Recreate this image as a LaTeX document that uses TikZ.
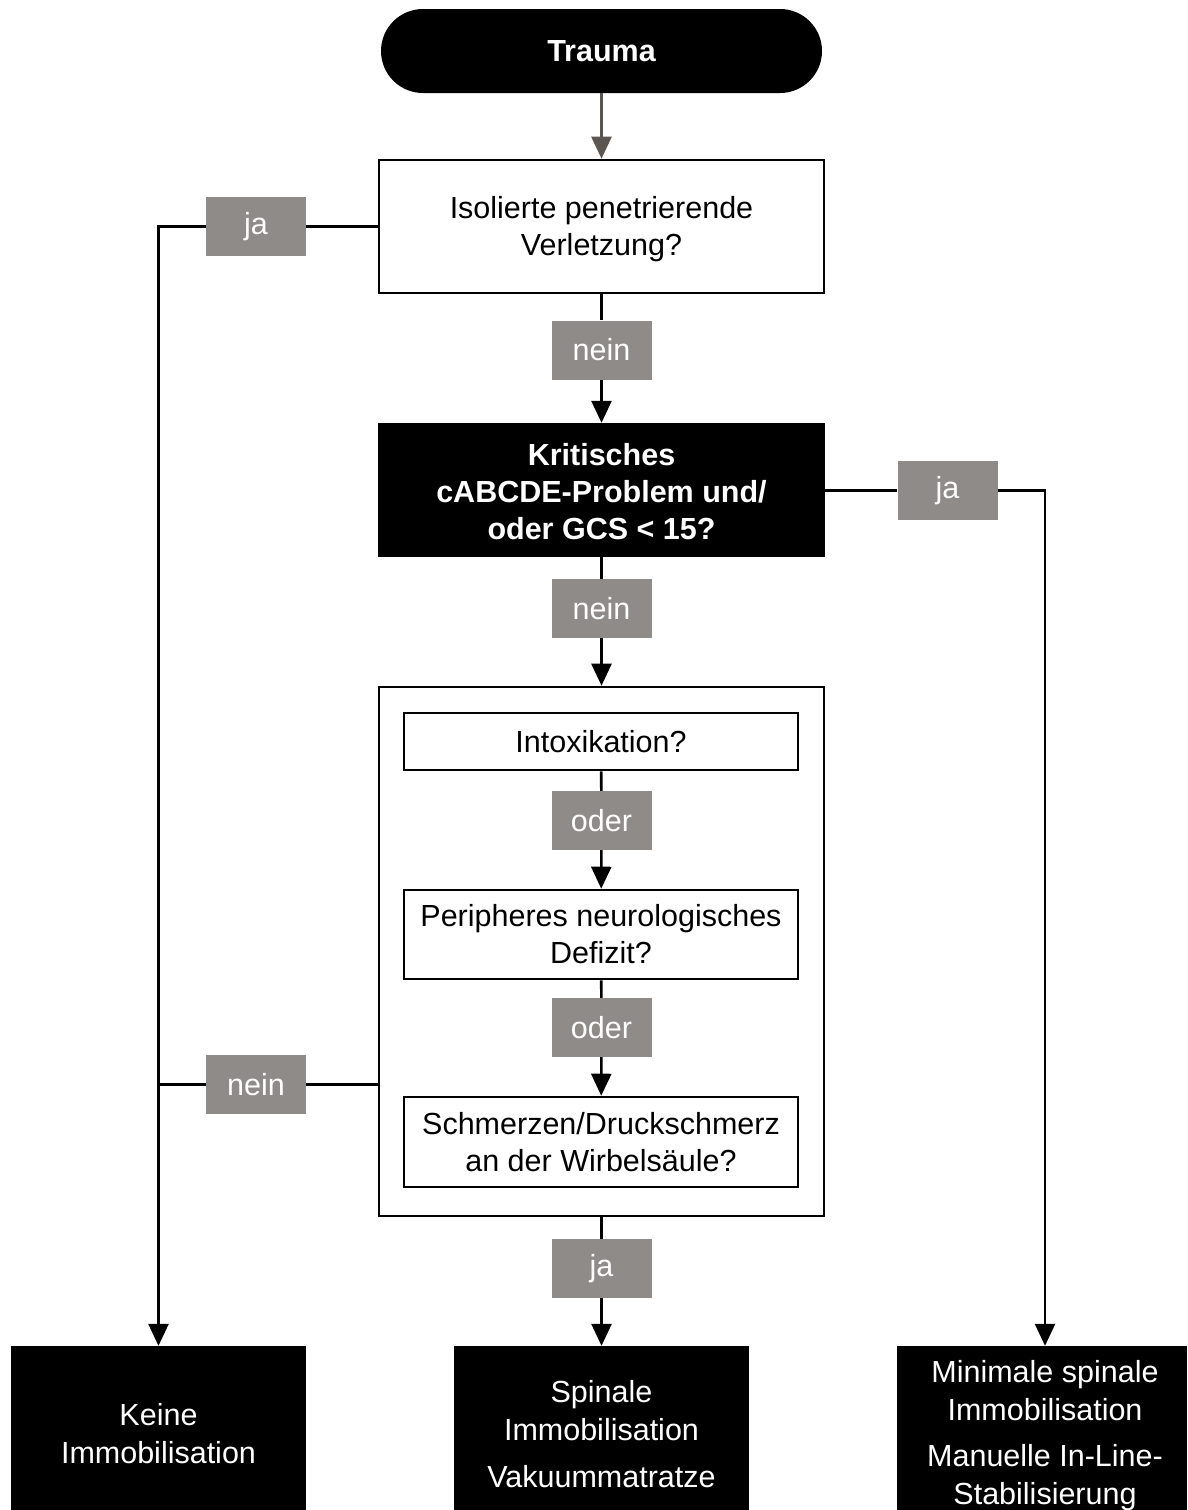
\documentclass[tikz,border=0pt]{standalone}
\usepackage{fontspec}
\setmainfont{Liberation Sans}
\usetikzlibrary{arrows.meta}
\definecolor{labgrey}{HTML}{8F8B88}
\definecolor{trarrow}{HTML}{5B5651}
\begin{document}
\begin{tikzpicture}[x=1pt,y=-1pt,
  every node/.style={font=\fontsize{30.5}{37}\selectfont, align=center, inner sep=0pt},
  qbox/.style={draw=black, line width=2.6pt, fill=white},
  blackbox/.style={fill=black, text=white},
  outtext/.style={text=white, font=\fontsize{30.5}{38}\selectfont},
  lab/.style={fill=labgrey, text=white, minimum width=100pt, minimum height=59pt},
  conn/.style={line width=2.6pt, draw=black},
  arr/.style={conn, -{Triangle[length=22pt,width=20pt]}}
]
\useasboundingbox (0,0) rectangle (1188,1510);

% main nodes
\node[blackbox, rounded corners=42pt, minimum width=441pt, minimum height=84pt,
      font=\fontsize{30.5}{37}\selectfont\bfseries] (trauma) at (601.5,51) {Trauma};
\node[qbox, minimum width=445pt, minimum height=133pt] (b1) at (601.5,226.5) {};
\node (b1t) at (601.5,229.5) {Isolierte penetrierende\\Verletzung?};
\node[blackbox, minimum width=447pt, minimum height=134pt,
      font=\fontsize{30.5}{37}\selectfont\bfseries] (b2) at (601.5,490) {};
\node[text=white, font=\fontsize{30.5}{37}\selectfont\bfseries] (b2t) at (601.5,491.5)
  {Kritisches\\cABCDE-Problem und/\\oder GCS < 15?};
\node[qbox, minimum width=445pt, minimum height=529pt] (b3) at (601.5,951.5) {};
\node[qbox, minimum width=394pt, minimum height=57pt] (q1) at (601,741.5) {Intoxikation?};
\node[qbox, minimum width=394pt, minimum height=89pt] (q2) at (601,934.5)
  {Peripheres neurologisches\\Defizit?};
\node[qbox, minimum width=394pt, minimum height=90pt] (q3) at (601,1142)
  {Schmerzen/Druckschmerz\\an der Wirbelsäule?};

% outcome boxes
\node[blackbox, minimum width=295pt, minimum height=164pt] (bl) at (158.5,1428) {};
\node[outtext] (blt) at (158.5,1434) {Keine\\Immobilisation};
\node[blackbox, minimum width=295pt, minimum height=164pt] (bm) at (601.5,1428) {};
\node[outtext] (bmt) at (601.5,1434) {Spinale\\Immobilisation\\[9pt]Vakuummatratze};
\node[blackbox, minimum width=290pt, minimum height=164pt] (br) at (1042,1428) {};
\node[outtext] (brt) at (1045,1435.5)
  {Minimale spinale\\Immobilisation\\[8pt]Manuelle In-Line-\\Stabilisierung};

% labels
\node[lab] (ja1) at (256,226.5) {ja};
\node[lab] (nein1) at (601.5,350) {nein};
\node[lab] (ja2) at (947.5,490.5) {ja};
\node[lab] (nein2) at (601.5,608.5) {nein};
\node[lab] (oder1) at (601.5,820.5) {oder};
\node[lab] (oder2) at (601.5,1027.5) {oder};
\node[lab] (nein3) at (256,1084.5) {nein};
\node[lab] (ja3) at (601.5,1268.5) {ja};

% connectors
\draw[line width=2.6pt, trarrow, -{Triangle[length=22pt,width=20pt]}] (trauma) -- (b1);
\draw[conn] (b1) -- (nein1);
\draw[arr] (nein1) -- (b2);
\draw[conn] (b2) -- (nein2);
\draw[arr] (nein2) -- (b3);
\draw[conn] (q1) -- (oder1);
\draw[arr] (oder1) -- (q2);
\draw[conn] (q2) -- (oder2);
\draw[arr] (oder2) -- (q3);
\draw[conn] (b3) -- (ja3);
\draw[arr] (ja3) -- (bm);
\draw[conn] (b1.west) -- (ja1.east |- b1.west);
\draw[arr] (ja1.west) -| (bl.north);
\draw[conn] (b3.west |- nein3) -- (nein3.east);
\draw[conn] (nein3.west) -- (bl.north |- nein3.west);
\draw[conn] (b2.east |- ja2.west) -- (ja2.west);
\draw[arr] (ja2.east) -| ([xshift=3pt]br.north);
\end{tikzpicture}
\end{document}
